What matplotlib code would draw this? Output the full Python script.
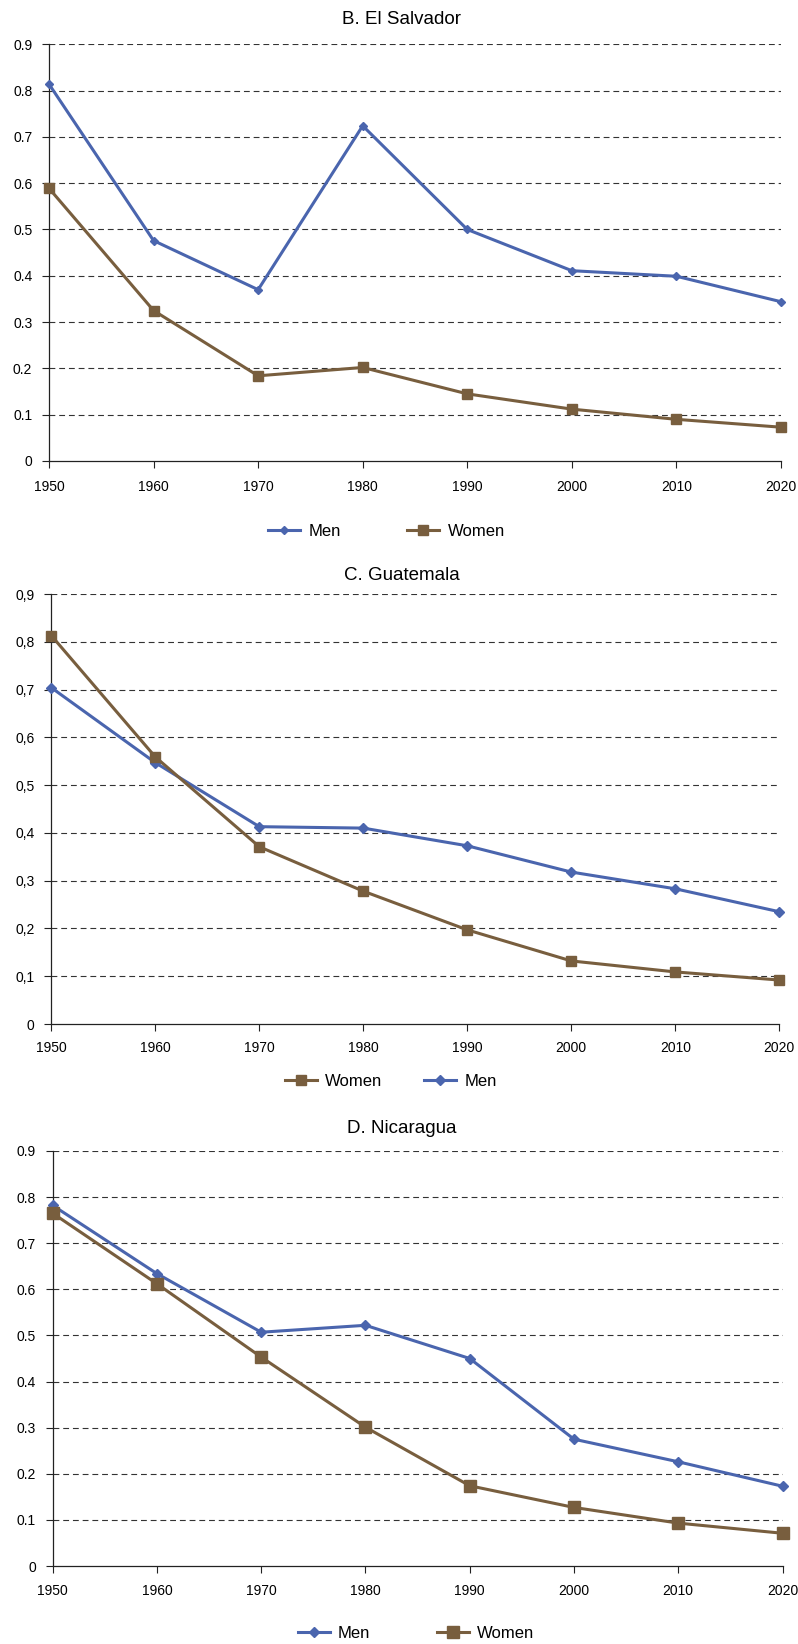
import matplotlib

matplotlib.use("Agg")
import matplotlib.pyplot as plt

plt.rcParams["font.family"] = ["Liberation Sans", "DejaVu Sans"]
plt.rcParams["lines.scale_dashes"] = False

# values
years = [1950, 1960, 1970, 1980, 1990, 2000, 2010, 2020]

salvador_men = [0.814, 0.476, 0.370, 0.724, 0.500, 0.411, 0.399, 0.344]
salvador_women = [0.589, 0.325, 0.184, 0.202, 0.145, 0.112, 0.090, 0.073]

guatemala_men = [0.704, 0.547, 0.413, 0.410, 0.373, 0.318, 0.283, 0.235]
guatemala_women = [0.813, 0.559, 0.371, 0.278, 0.197, 0.132, 0.109, 0.092]

nicaragua_men = [0.782, 0.634, 0.507, 0.522, 0.450, 0.275, 0.226, 0.173]
nicaragua_women = [0.765, 0.612, 0.453, 0.301, 0.174, 0.127, 0.093, 0.071]

titles = ["B. El Salvador", "C. Guatemala", "D. Nicaragua"]
y_ticks = [0, 0.1, 0.2, 0.3, 0.4, 0.5, 0.6, 0.7, 0.8, 0.9]
y_labels_dot = ["0", "0.1", "0.2", "0.3", "0.4", "0.5", "0.6", "0.7", "0.8", "0.9"]
y_labels_comma = ["0", "0,1", "0,2", "0,3", "0,4", "0,5", "0,6", "0,7", "0,8", "0,9"]

BLUE = "#4a65ae"
BROWN = "#785e3e"

W, H = 798, 1644
fig = plt.figure(figsize=(W / 100, H / 100), dpi=100)

# panel geometry in pixels: (left, right, top, bottom)
panels = [
    dict(px=(49, 781, 44.3, 461), men=salvador_men, women=salvador_women,
         ylab=y_labels_dot, dsize=4.0, ssize=7.0, xpad=9,
         title_y=19, leg=(386.6, 531), order=("men", "women"), colsp=4.0),
    dict(px=(51.3, 779.3, 594, 1024), men=guatemala_men, women=guatemala_women,
         ylab=y_labels_comma, dsize=5.2, ssize=7.5, xpad=7,
         title_y=575, leg=(391, 1081), order=("women", "men"), colsp=2.5),
    dict(px=(52.7, 782.5, 1151, 1566), men=nicaragua_men, women=nicaragua_women,
         ylab=y_labels_dot, dsize=5.6, ssize=8.0, xpad=8,
         title_y=1128, leg=(416, 1633), order=("men", "women"), colsp=4.0),
]

for title, p in zip(titles, panels):
    l, r, t, b = p["px"]
    ax = fig.add_axes([l / W, 1 - b / H, (r - l) / W, (b - t) / H])

    (men_line,) = ax.plot(
        years, p["men"], color=BLUE, lw=2.2, marker="D",
        markersize=p["dsize"], markeredgewidth=1, clip_on=False, zorder=3,
        label="Men",
    )
    (women_line,) = ax.plot(
        years, p["women"], color=BROWN, lw=2.2, marker="s",
        markersize=p["ssize"], markeredgewidth=1, clip_on=False, zorder=4,
        label="Women",
    )

    ax.set_xlim(1950, 2020)
    ax.set_ylim(0, 0.9)
    ax.set_xticks(years)
    ax.set_xticklabels([str(y) for y in years])
    ax.set_yticks(y_ticks)
    ax.set_yticklabels(p["ylab"])

    for ytk in y_ticks[1:]:
        ax.axhline(ytk, color="#333333", lw=0.8, linestyle=(0, (4.2, 2.8)), zorder=1)

    for side in ("top", "right"):
        ax.spines[side].set_visible(False)
    for side in ("left", "bottom"):
        ax.spines[side].set_linewidth(0.9)
        ax.spines[side].set_color("#222222")

    ax.tick_params(axis="y", direction="out", length=5, width=0.8,
                   labelsize=10, pad=7, color="#222222")
    ax.tick_params(axis="x", direction="out", length=5, width=0.8,
                   labelsize=10, pad=p["xpad"], color="#222222")

    fig.text(402 / W, 1 - p["title_y"] / H, title, ha="center", va="center",
             fontsize=13.5)

    handles = {"men": men_line, "women": women_line}
    hl = [handles[k] for k in p["order"]]
    lx, ly = p["leg"]
    fig.legend(
        hl, [h.get_label() for h in hl], loc="center",
        bbox_to_anchor=(lx / W, 1 - ly / H), ncol=2, frameon=False,
        fontsize=12, handlelength=1.9, handletextpad=0.5,
        columnspacing=p["colsp"], borderpad=0.1,
    )

fig.savefig("out.png", dpi=100)
